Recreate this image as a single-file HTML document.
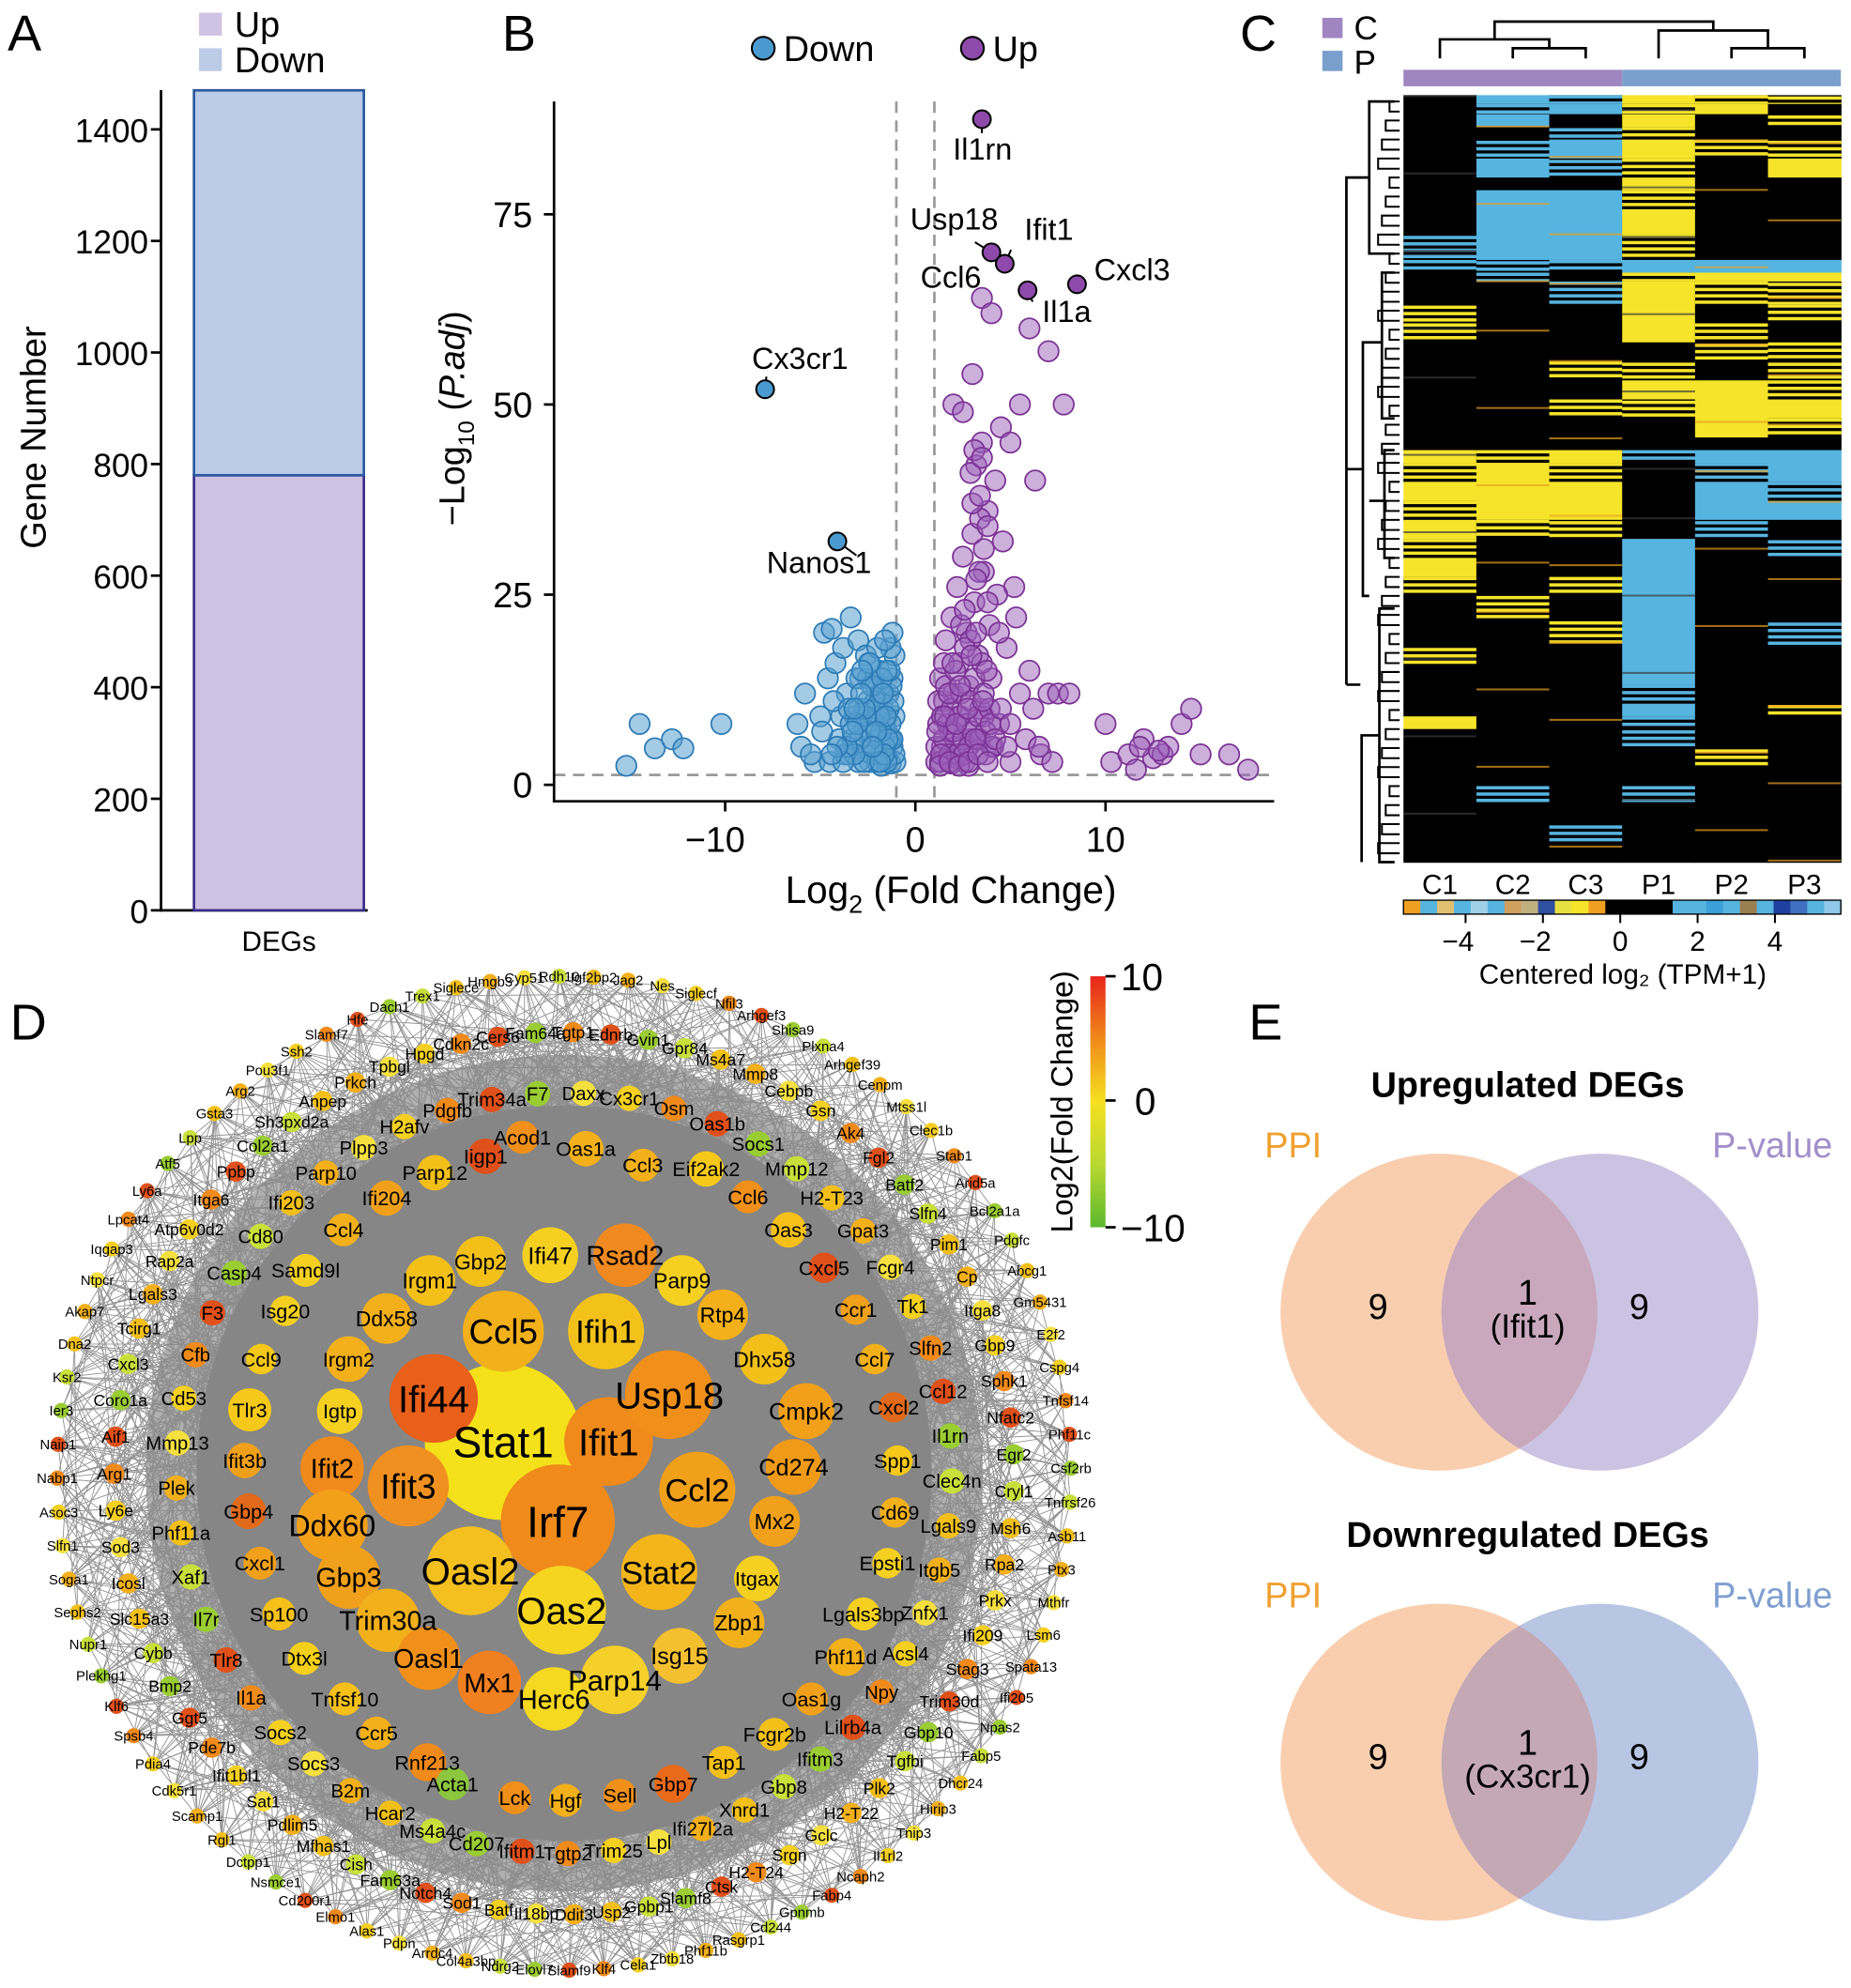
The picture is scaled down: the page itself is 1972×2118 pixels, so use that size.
<!DOCTYPE html>
<html><head><meta charset="utf-8"><style>
html,body{margin:0;padding:0;background:#fff}
svg{display:block;font-family:"Liberation Sans",Arial,sans-serif}
</style></head><body>
<svg id="fig" width="1972" height="2118" viewBox="0 0 1460 1568" xmlns="http://www.w3.org/2000/svg">
<defs>
<linearGradient id="fcgrad" x1="0" y1="0" x2="0" y2="1"><stop offset="0" stop-color="#e8241c"/><stop offset="0.25" stop-color="#f08a1a"/><stop offset="0.5" stop-color="#f5e020"/><stop offset="0.75" stop-color="#b8d830"/><stop offset="1" stop-color="#5cb82e"/></linearGradient>
<clipPath id="clipR1"><circle cx="1262" cy="1035" r="125"/></clipPath>
<clipPath id="clipR2"><circle cx="1262" cy="1390" r="125"/></clipPath>
</defs>
<g id="panelA"></g>
<g id="panelB"></g>
<g id="panelC"></g>
<g id="panelD"></g>
<g id="panelE"></g>
</svg>
<script>
// ---------- DATA ----------
const barCategories = ["DEGs"];
const upCounts = [780];
const downCounts = [690];
const aTicks = [0,200,400,600,800,1000,1200,1400];

const bXTicks = [-10,0,10];
const bYTicks = [0,25,50,75];
const downX = [-15.2,-14.5,-13.7,-12.8,-12.2,-10.2,-6.2,-6,-5.8,-5.3,-5,-4.8,-4.6,-4.4,-4.2,-4,-3.8,-3.6,-3.4,-3.2,-3,-2.9,-2.8,-2.6,-2.5,-2.4,-2.2,-2.1,-2,-1.9,-1.8,-1.7,-1.6,-1.5,-1.4,-1.3,-1.2,-1.1,-1.05,-4.5,-3.5,-3,-2.7,-2.3,-1.9,-1.5,-3.9,-3.3,-2,-4.9,-5.5,-2.5,-1.8,-3.7,-1.2,-4.3,-2.8,-1.6,-1.3,-3.1,
 -1.1,-1.2,-1.3,-1.4,-1.5,-1.6,-1.7,-1.8,-1.9,-2.0,-2.1,-2.2,-2.3,-2.4,-2.6,-2.7,-2.9,-3.0,-3.2,-3.4,-3.6,-1.15,-1.25,-1.35,-1.45,-1.55,-1.65,-1.75,-1.85,-2.05,-2.25,-2.45,-2.65,-2.85,-3.05,-3.3,-3.5,-3.8,-4.1,-4.4,-1.1,-1.3,-1.5,-1.7,-2.0,-2.4,-2.8,-3.2,-1.2,-1.6];
const downY = [2.5,8,4.8,6,4.8,8,8,5,12,3,9,20,14,20.5,16,6,18,12,22,9,19,14,5,17,11,3,8,13,6,15,2.5,10,4,7,12,2.8,5,9,3,3,4,3,7,4,6,3.5,9,6,10,7,4,14,12,4,14,11,9,8,6,14,
 4,6,8,10,3,5,12,7,9,3,11,5,13,7,9,3,6,10,4,8,5,11,13,15,6,9,4,14,3,7,5,16,10,12,8,7,10,3,5,4,17,18,15,12,18,16,15,10,20,19];
const upX = [1.1,1.2,1.3,1.4,1.5,1.6,1.7,1.8,1.9,2,2.1,2.2,2.3,2.4,2.5,2.6,2.7,2.8,2.9,3,3.1,3.2,3.3,3.4,3.5,3.6,3.7,3.8,3.9,4,4.2,4.4,4.6,4.8,5,5.2,5.5,5.8,6,6.3,6.6,6.2,7,7.5,8.1,6.5,7.2,2,2.5,3,3.5,4,5.5,6,7,7.8,4.5,5,2.2,2.8,3.3,1.5,2.4,3.6,4.1,1.9,2.9,3.4,4.3,5.3,10,10.3,11.2,11.6,12,12.5,13,13.3,14,14.5,15,16.5,17.5,11.8,12.8,
 1.1,1.2,1.3,1.4,1.5,1.6,1.7,1.8,1.9,2.0,2.1,2.2,2.3,2.4,2.5,2.6,2.7,2.8,2.9,3.0,3.1,3.2,3.3,3.4,3.5,3.6,3.7,3.8,3.9,4.0,1.15,1.35,1.55,1.75,1.95,2.15,2.35,2.55,2.75,2.95,3.15,3.35,3.55,3.75,3.95,4.2,4.5,4.8,1.3,1.8,2.3,2.8,3.3,3.8,2.6,3.2,3.6,3.0,3.4,3.8,2.9,3.1,3.5,4.4,5.0];
const upY = [3,8,14,5,11,19,3.5,7,22,12,5,26,16,9,30,3,20,13,6,33,24,42,17,10,45,28,4,36,21,14,40,8,32,18,3,26,12,6,15,40,4,10,12,12,12,5,3,50,49,54,64,62,50,60,57,50,47,45,3.5,2.5,6,16,21,9,5,2.8,19,35,25,22,8,3,4,2,6,3.5,4,5,8,10,4,4,2,5,4.5,
 5,11,3,9,6,13,8,4,10,7,15,4,9,12,6,18,8,5,11,7,14,20,9,6,16,12,7,24,10,5,7,4,9,12,16,8,13,4,10,17,6,28,11,15,8,6,10,5,2.5,3,2.5,3,4,3,23,27,31,37,38,34,41,44,43,20,8];
const labelGenes = ["Il1rn","Usp18","Ifit1","Cxcl3","Il1a","Cx3cr1","Nanos1"];
const labelX = [3.5,4,4.7,8.5,5.9,-7.9,-4.1];
const labelY = [87.5,70,68.5,65.8,65,52,32];

const heatSamples = ["C1","C2","C3","P1","P2","P3"];
const heatRowCounts = [7,8,10,10,15,15,10,15,20,20,10,7,18,15,15,15,15,15,15,15,10,10,15,15,15,15,15,15,15,20,20,15,15,15,10,10,15,15,15,15,15,15,15];
const heatValues = [
[0,-2,-1,2,1,1],[0,-1,-2,1,2,0],[0,-2,0,2,0,1],[0,0,-1,1,0,0],[0,-1,-2,2,1,1],[0,-2,-1,1,0,2],[0,0,0,2,0,0],
[0,-2,-2,1,0,0],[0,-2,-2,2,0,0],[-1,-2,-2,1,0,0],[-1,-1,-1.5,-2,-2,-2],[0,-1,0,1,2,2],[0,0,-1,2,1,1],
[1,0,0,2,0,1],[1,0,0,2,1,0],[0,0,0,0,1,1],[0,0,1,1,0,1],[0,0,0,2,2,1],[0,0,1,1,2,2],[0,0,0,0,2,1],[0,0,0,0,0,0],
[2,1,2,-1,-2,-2],[1,2,1,0,-1,-2],[2,2,2,0,-2,-1],[1,2,2,0,-2,-2],[2,1,1,0,-1,0],[1,0,0,-2,0,-1],[2,0,0,-2,0,0],
[1,0,1,-2,0,0],[0,1,0,-2,0,0],[0,0,1,-2,0,-1],[1,0,0,-2,0,0],[0,0,0,-2,0,0],[0,0,0,-1,0,0],[0,0,0,-2,0,1],
[2,0,0,-1,0,0],[0,0,0,-1,0,0],[0,0,0,0,1,0],[0,0,0,0,0,0],[0,-1,0,-1,0,0],[0,0,0,0,0,0],[0,0,-1,0,0,0],[0,0,0,0,0,0]];
const heatTicks = [-4,-2,0,2,4];

const vennUpCounts = [9,1,9];
const vennDownCounts = [9,1,9];

// ---------- HELPERS ----------
const NS="http://www.w3.org/2000/svg";
function mk(parent,tag,attrs,text){const e=document.createElementNS(NS,tag);for(const k in attrs)e.setAttribute(k,attrs[k]);if(text!==undefined)e.textContent=text;parent.appendChild(e);return e;}
const fig=document.getElementById('fig');
function panelLabel(t,x,y){const e=mk(fig,'text',{x:x,y:y,'font-size':40},t);}
panelLabel('A',6,40);panelLabel('B',396,40);panelLabel('C',978,40);panelLabel('D',8,820);panelLabel('E',985,820);

// ---------- PANEL A ----------
(function(){
const g=document.getElementById('panelA');
const y=v=>718-v*0.44;
let e;
e=mk(g,'line',{x1:127,y1:71,x2:127,y2:719,stroke:'#000','stroke-width':2});
e=mk(g,'line',{x1:126,y1:718,x2:290,y2:718,stroke:'#000','stroke-width':2});
aTicks.forEach(t=>{
 e=mk(g,'line',{x1:119,y1:y(t),x2:127,y2:y(t),stroke:'#000','stroke-width':2});
 e=mk(g,'text',{x:117,y:y(t)+10,'font-size':26,'text-anchor':'end'},t);
});
const u=upCounts[0],d=downCounts[0];
e=mk(g,'rect',{x:153,y:y(u),width:134,height:y(0)-y(u),fill:'#cfc1e2',stroke:'#3a2f8a','stroke-width':2});
e=mk(g,'rect',{x:153,y:y(u+d),width:134,height:y(u)-y(u+d),fill:'#bccbe7',stroke:'#2c5aa0','stroke-width':2});
e=mk(g,'text',{x:220,y:750,'font-size':22,'text-anchor':'middle'},barCategories[0]);
e=mk(g,'text',{x:0,y:0,'font-size':28,'text-anchor':'middle',transform:'translate(36,345) rotate(-90)'},'Gene Number');
e=mk(g,'rect',{x:157,y:10,width:18,height:18,fill:'#cfc2e3'});
e=mk(g,'text',{x:185,y:29,'font-size':28},'Up');
e=mk(g,'rect',{x:157,y:38,width:18,height:18,fill:'#bccbe6'});
e=mk(g,'text',{x:185,y:57,'font-size':28},'Down');
})();

// ---------- PANEL B ----------
(function(){
const g=document.getElementById('panelB');
const X=v=>722+v*15, Y=v=>619-v*6;
let e;
e=mk(g,'line',{x1:X(-1),y1:80,x2:X(-1),y2:632,stroke:'#999','stroke-width':2,'stroke-dasharray':'9,6'});
e=mk(g,'line',{x1:X(1),y1:80,x2:X(1),y2:632,stroke:'#999','stroke-width':2,'stroke-dasharray':'9,6'});
e=mk(g,'line',{x1:437,y1:Y(1.3),x2:1005,y2:Y(1.3),stroke:'#999','stroke-width':2,'stroke-dasharray':'9,6'});
downX.forEach((v,i)=>{e=mk(g,'circle',{cx:X(v),cy:Y(downY[i]),r:8,fill:'rgba(90,160,208,0.55)',stroke:'#2c7bb6','stroke-width':1.3});});
upX.forEach((v,i)=>{e=mk(g,'circle',{cx:X(v),cy:Y(upY[i]),r:8,fill:'rgba(155,95,185,0.5)',stroke:'#7b3294','stroke-width':1.3});});
const lo=[[0,22],[-26,-16],[10,-22],[14,-6],[8,18],[2,-20],[30,22]];
labelGenes.forEach((n,i)=>{
 const cx=X(labelX[i]),cy=Y(labelY[i]);const down=labelX[i]<0;
 e=mk(g,'line',{x1:cx,y1:cy,x2:cx+lo[i][0]*0.5,y2:cy+lo[i][1]*0.5,stroke:'#000','stroke-width':1.5});
 e=mk(g,'circle',{cx:cx,cy:cy,r:7,fill:down?'#4a9ad0':'#8e4aaa',stroke:'#000','stroke-width':1.5});
});
const lt=[[775,126,'middle'],[718,181,'start'],[808,189,'start'],[863,221,'start'],[822,254,'start'],[631,291,'middle'],[646,452,'middle']];
labelGenes.forEach((n,i)=>{e=mk(g,'text',{x:lt[i][0],y:lt[i][1],'font-size':24,'text-anchor':lt[i][2]},n);});
e=mk(g,'text',{x:726,y:227,'font-size':24},'Ccl6');
e=mk(g,'line',{x1:437,y1:80,x2:437,y2:632,stroke:'#000','stroke-width':2});
e=mk(g,'line',{x1:436,y1:632,x2:1005,y2:632,stroke:'#000','stroke-width':2});
bYTicks.forEach(t=>{e=mk(g,'line',{x1:429,y1:Y(t),x2:437,y2:Y(t),stroke:'#000','stroke-width':2});
 e=mk(g,'text',{x:420,y:Y(t)+10,'font-size':28,'text-anchor':'end'},t);});
bXTicks.forEach(t=>{e=mk(g,'line',{x1:X(t),y1:632,x2:X(t),y2:640,stroke:'#000','stroke-width':2});
 e=mk(g,'text',{x:X(t)-(t<0?8:0),y:672,'font-size':28,'text-anchor':'middle'},t<0?'\u2212'+(-t):t);});
e=mk(g,'text',{x:750,y:712,'font-size':30,'text-anchor':'middle'});
e.innerHTML='Log<tspan font-size="20" dy="8">2</tspan><tspan dy="-8"> (Fold Change)</tspan>';
e=mk(g,'text',{x:0,y:0,'font-size':28,'text-anchor':'middle',transform:'translate(366,330) rotate(-90)'});
e.innerHTML='\u2212Log<tspan font-size="18" dy="8">10</tspan><tspan dy="-8"> (</tspan><tspan font-style="italic">P.adj</tspan>)';
e=mk(g,'circle',{cx:602,cy:38,r:9,fill:'#4a9ad0',stroke:'#000','stroke-width':1.5});
e=mk(g,'text',{x:618,y:48,'font-size':28},'Down');
e=mk(g,'circle',{cx:767,cy:38,r:9,fill:'#8e4aaa',stroke:'#000','stroke-width':1.5});
e=mk(g,'text',{x:783,y:48,'font-size':28},'Up');
})();

// ---------- PANEL C ----------
(function(){
const g=document.getElementById('panelC');
const x0=1107,x1=1452,y0=75,y1=680,cw=(x1-x0)/6;
const total=heatRowCounts.reduce((a,b)=>a+b,0);const rh=(y1-y0)/total;
function col(v){if(v>0)return '#f5e42a';if(v<0)return '#56b4e0';return '#000';}
let e,yy=y0;
heatRowCounts.forEach((n,i)=>{const h=n*rh;heatValues[i].forEach((v,j)=>{
 const full=Math.abs(v)>=2||v==0;
 e=mk(g,'rect',{x:x0+j*cw,y:yy,width:cw+0.5,height:h+0.5,fill:full?col(v):'#000'});
 if(!full){for(let s=0;s<h;s+=5){e=mk(g,'rect',{x:x0+j*cw,y:yy+s+((i+j)%2),width:cw+0.5,height:Math.min(2.6,h-s),fill:col(v)});}}
 });
 yy+=h;});
for(let k=0;k<60;k++){const sy=y0+((k*37)%605);const sc=(k*5)%6;
 e=mk(g,'rect',{x:x0+sc*cw,y:sy,width:cw,height:1.5,fill:k%3?'#e8a020':'#3a3a3a',opacity:0.7});}
e=mk(g,'rect',{x:x0,y:55,width:cw*3,height:13,fill:'#9f86c0'});
e=mk(g,'rect',{x:x0+cw*3,y:55,width:cw*3,height:13,fill:'#7b9fcc'});
const cx=j=>x0+cw*(j+0.5);
const dp=`M${cx(1)},46 V38 H${cx(2)} V46 M${(cx(1)+cx(2))/2},38 V31 H${cx(0)} V46 M${cx(4)},46 V38 H${cx(5)} V46 M${(cx(4)+cx(5))/2},38 V24 H${cx(3)} V46 M${(cx(0)+(cx(1)+cx(2))/2)/2},31 V17 H${(cx(3)+(cx(4)+cx(5))/2)/2} V24`;
e=mk(g,'path',{d:dp,fill:'none',stroke:'#000','stroke-width':2});
e=mk(g,'path',{d:'M1100,80 H1080 V200 H1100 M1080,140 H1062 V540 M1062,540 H1073 M1100,215 H1090 V330 H1100 M1090,270 H1075 V470 H1080 M1100,355 H1092 V440 H1100 M1092,395 H1080 M1100,480 H1088 V680 H1100 M1088,580 H1074 V680 M1075,370 H1062',fill:'none',stroke:'#000','stroke-width':2});
for(let k=0;k<40;k++){const yk=80+k*15;e=mk(g,'path',{d:`M1104,${yk} H${1096-(k%4)*3} V${yk+8} H1104`,fill:'none',stroke:'#000','stroke-width':1.5});}
e=mk(g,'rect',{x:1043,y:14,width:16,height:16,fill:'#9f86c0'});
e=mk(g,'text',{x:1068,y:31,'font-size':26},'C');
e=mk(g,'rect',{x:1043,y:40,width:16,height:16,fill:'#7b9fcc'});
e=mk(g,'text',{x:1068,y:58,'font-size':26},'P');
heatSamples.forEach((s,j)=>{e=mk(g,'text',{x:cx(j),y:705,'font-size':22,'text-anchor':'middle'},s);});
const cbc=['#f0a020','#56b4e0','#e0c070','#56b4e0','#9fd0e8','#56b4e0','#d0a060','#c0b080','#3050a0','#e8e040','#f5e42a','#f0a020','#000','#000','#000','#000','#56b4e0','#56b4e0','#3aa0d8','#56b4e0','#9a8050','#56b4e0','#2040a0','#4070c0','#56b4e0','#8fc8e8'];
const cbw=(x1-x0)/cbc.length;
cbc.forEach((c,k)=>{e=mk(g,'rect',{x:x0+k*cbw,y:710,width:cbw+0.5,height:11,fill:c});});
e=mk(g,'rect',{x:x0,y:710,width:x1-x0,height:11,fill:'none',stroke:'#000','stroke-width':1});
const tx=v=>1278+v*30.5;
heatTicks.forEach(t=>{e=mk(g,'line',{x1:tx(t),y1:721,x2:tx(t),y2:728,stroke:'#000','stroke-width':1.5});
 e=mk(g,'text',{x:tx(t)-(t<0?6:0),y:750,'font-size':22,'text-anchor':'middle'},t<0?'\u2212'+(-t):t);});
e=mk(g,'text',{x:1280,y:776,'font-size':22,'text-anchor':'middle'},'Centered log\u2082 (TPM+1)');
})();

// ---------- PANEL D ----------
const coreNodes=[["Stat1",397,1137,62,"#f5e11a"],["Irf7",440,1200,45,"#f08a1a"],["Ifit1",480,1137,35,"#f08a1a"],["Ifi44",342,1103,35,"#e8601a"],["Usp18",528,1100,35,"#f0901a"],["Ifih1",478,1050,30,"#f3c21a"],["Ccl5",397,1050,32,"#f2b01a"],["Oasl2",371,1239,35,"#f3c020"],["Oas2",443,1270,35,"#f5d520"],["Stat2",520,1240,30,"#f3b51a"],["Ccl2",550,1175,30,"#f1a01a"],["Ifit3",322,1172,32,"#f09020"],["Ifit2",262,1158,25,"#f08a1a"],["Ddx60",262,1203,28,"#f2a01a"],["Gbp3",275,1244,25,"#f0a01a"],["Trim30a",306,1278,25,"#f2b01a"],["Oasl1",338,1308,25,"#f0901a"],["Mx1",386,1327,25,"#f08020"],["Herc6",437,1340,25,"#f5d820"],["Parp14",485,1325,27,"#f5d02a"],["Isg15",536,1306,22,"#f5c030"],["Zbp1",583,1280,20,"#f2b01a"],["Itgax",597,1245,18,"#f5d020"],["Mx2",611,1200,20,"#f0a01a"],["Cd274",626,1157,22,"#f09a1a"],["Cmpk2",636,1113,22,"#f2a01a"],["Dhx58",603,1072,20,"#f3c01a"],["Rtp4",570,1037,20,"#f3b01a"],["Parp9",538,1010,20,"#f5d020"],["Rsad2",493,990,25,"#f08a20"],["Ifi47",434,990,22,"#f5d020"],["Gbp2",379,995,20,"#f3c01a"],["Irgm1",339,1010,20,"#f3c01a"],["Ddx58",305,1040,20,"#f3b01a"],["Irgm2",275,1072,18,"#f3b01a"],["Igtp",268,1113,18,"#f5d020"],["Tlr3",197,1112,17,"#f5c81a"],["Ifit3b",193,1152,14,"#f0a01a"],["Gbp4",196,1192,14,"#e06a1a"],["Cxcl1",205,1233,13,"#f0a01a"],["Sp100",220,1273,13,"#f5c01a"],["Dtx3l",240,1308,13,"#f5d01a"],["Tnfsf10",272,1340,13,"#f5c01a"],["Ccr5",297,1367,13,"#f3b01a"],["Rnf213",337,1390,15,"#f08a1a"],["Acta1",357,1407,13,"#8cc63f"],["Lck",406,1418,13,"#f0901a"],["Hgf",446,1420,13,"#f3b01a"],["Sell",489,1416,13,"#f0901a"],["Gbp7",531,1407,15,"#e86a1a"],["Tap1",571,1390,13,"#f5c01a"],["Fcgr2b",611,1368,13,"#f3c01a"],["Oas1g",640,1340,13,"#f0a01a"],["Phf11d",667,1307,15,"#f3b01a"],["Lgals3bp",681,1273,13,"#f5d020"],["Epsti1",700,1233,12,"#f5d020"],["Cd69",706,1193,12,"#f3b01a"],["Spp1",708,1152,12,"#f5c81a"],["Cxcl2",705,1110,12,"#e06a1a"],["Ccl7",690,1072,12,"#f3b01a"],["Ccr1",675,1033,12,"#f0a01a"],["Cxcl5",650,1000,12,"#e0501a"],["Oas3",622,970,14,"#f5c01a"],["Ccl6",590,944,13,"#f0901a"],["Eif2ak2",557,922,14,"#f5c81a"],["Ccl3",507,919,13,"#f3b01a"],["Oas1a",462,906,14,"#f3b01a"],["Acod1",412,897,13,"#f0901a"],["Iigp1",383,912,14,"#e0501a"],["Parp12",343,925,14,"#f3c01a"],["Ifi204",305,945,14,"#f0a01a"],["Ccl4",271,970,13,"#f3b01a"],["Samd9l",241,1002,13,"#f5d020"],["Isg20",225,1034,12,"#f5d020"],["Ccl9",206,1072,12,"#f5c81a"]];
const ringInner=["Daxx","Cx3cr1","Osm","Oas1b","Socs1","Mmp12","H2-T23","Gpat3","Fcgr4","Tk1","Slfn2","Ccl12","Il1rn","Clec4n","Lgals9","Itgb5","Znfx1","Acsl4","Npy","Lilrb4a","Ifitm3","Gbp8","Xnrd1","Ifi27l2a","Lpl","Trim25","Tgtp2","Ifitm1","Cd207","Ms4a4c","Hcar2","B2m","Socs3","Socs2","Il1a","Tlr8","Il7r","Xaf1","Phf11a","Plek","Mmp13","Cd53","Cfb","F3","Casp4","Cd80","Ifi203","Parp10","Plpp3","H2afv","Pdgfb","Trim34a","F7"];
const ringMid=["Tgtp1","Ednrb","Gvin1","Gpr84","Ms4a7","Mmp8","Cebpb","Gsn","Ak4","Fgl2","Batf2","Slfn4","Pim1","Cp","Itga8","Gbp9","Sphk1","Nfatc2","Egr2","Cryl1","Msh6","Rpa2","Prkx","Ifi209","Stag3","Trim30d","Gbp10","Tgfbi","Plk2","H2-T22","Gclc","Srgn","H2-T24","Ctsk","Slamf8","Gpbp1","Usp2","Ddit3","Il18bp","Batf","Sod1","Notch4","Fam63a","Cish","Mfhas1","Pdlim5","Sat1","Ifit1bl1","Pde7b","Ggt5","Bmp2","Cybb","Slc15a3","Icosl","Sod3","Ly6e","Arg1","Aif1","Coro1a","Cxcl3","Tcirg1","Lgals3","Rap2a","Atp6v0d2","Itga6","Ppbp","Col2a1","Sh3pxd2a","Anpep","Prkch","Tpbgl","Hpgd","Cdkn2c","Cers6","Fam64a"];
const ringOuter=["Rdh10","Igf2bp2","Jag2","Nes","Siglecf","Nfil3","Arhgef3","Shisa9","Plxna4","Arhgef39","Cenpm","Mtss1l","Clec1b","Stab1","Arid5a","Bcl2a1a","Pdgfc","Abcg1","Gm5431","E2f2","Cspg4","Tnfsf14","Phf11c","Csf2rb","Tnfrsf26","Asb11","Ptx3","Mthfr","Lsm6","Spata13","Ifi205","Npas2","Fabp5","Dhcr24","Hirip3","Tnip3","Il1rl2","Ncaph2","Fabp4","Gpnmb","Cd244","Rasgrp1","Phf11b","Zbtb18","Cela1","Klf4","Slamf9","Elovl7","Ndrg2","Col4a3bp","Arrdc4","Pdpn","Alas1","Elmo1","Cd200r1","Nsmce1","Dctpp1","Rgl1","Scamp1","Cdk5r1","Pdia4","Spsb4","Klf6","Plekhg1","Nupr1","Sephs2","Soga1","Slfn1","Asoc3","Nabp1","Naip1","Ier3","Ksr2","Dna2","Akap7","Ntpcr","Iqgap3","Lpcat4","Ly6a","Atf5","Lpp","Gsta3","Arg2","Pou3f1","Ssh2","Slamf7","Hfe","Dach1","Trex1","Siglece","Hmgb3","Cyp51"];
(function(){
const g=document.getElementById('panelD');
const CX=445,CY=1162;
const pal=['#f5d020','#9acd32','#f3b01a','#f08a1a','#c8e03a','#f5e040','#e0501a','#f3c01a'];
const nodes=coreNodes.map(n=>({name:n[0],x:n[1],y:n[2],r:n[3],c:n[4],fs:Math.max(16,Math.min(34,n[3]*0.85))}));
function ring(list,R,rr,fs,off){list.forEach((nm,i)=>{const a=-Math.PI/2+off+2*Math.PI*i/list.length;
 nodes.push({name:nm,x:CX+R*1.02*Math.cos(a),y:CY+R*Math.sin(a),r:rr,c:pal[(i*3+list.length)%pal.length],fs:fs});});}
ring(ringInner,300,10,15,0.05);ring(ringMid,348,8,13,0.02);ring(ringOuter,392,6,11,-0.01);
let e;
e=mk(g,'circle',{cx:CX,cy:CY,r:330,fill:'#b0b0b0'});
const N=nodes.length;let d='';
for(let i=0;i<N;i++){for(let k=1;k<=7;k++){const j=(i*13+k*37)%N;d+=`M${nodes[i].x.toFixed(1)},${nodes[i].y.toFixed(1)}L${nodes[j].x.toFixed(1)},${nodes[j].y.toFixed(1)}`;}}
e=mk(g,'path',{d:d,stroke:'#8a8a8a','stroke-width':0.7,fill:'none',opacity:0.9});
e=mk(g,'circle',{cx:CX,cy:CY,r:290,fill:'#868686'});
nodes.forEach(n=>{e=mk(g,'circle',{cx:n.x,cy:n.y,r:n.r,fill:n.c});});
nodes.forEach(n=>{e=mk(g,'text',{x:n.x,y:n.y+n.fs*0.36,'font-size':n.fs,'text-anchor':'middle',fill:'#000'},n.name);});
e=mk(g,'rect',{x:860,y:770,width:12,height:198,fill:'url(#fcgrad)'});
[[770,'10'],[868,'0'],[968,'\u221210']].forEach(t=>{e=mk(g,'line',{x1:872,y1:t[0],x2:880,y2:t[0],stroke:'#000','stroke-width':2});
 e=mk(g,'text',{x:t[1]=='0'?895:884,y:t[0]+11,'font-size':30},t[1]);});
e=mk(g,'text',{x:0,y:0,'font-size':24,'text-anchor':'middle',transform:'translate(846,869) rotate(-90)'},'Log2(Fold Change)');
})();

// ---------- PANEL E ----------
(function(){
const g=document.getElementById('panelE');
function venn(cy,title,rc,rcol,counts,mid,clip,tag){
 let e;
 e=mk(g,'text',{x:1205,y:cy-170,'font-size':28,'font-weight':'bold','text-anchor':'middle'},title);
 e=mk(g,'text',{x:1020,y:cy-122,'font-size':28,'text-anchor':'middle',fill:'#f0a030'},'PPI');
 e=mk(g,'text',{x:1398,y:cy-122,'font-size':28,'text-anchor':'middle',fill:rcol},'P-value');
 e=mk(g,'circle',{cx:1135,cy:cy,r:125,fill:'#f9ceae'});
 e=mk(g,'circle',{cx:1262,cy:cy,r:125,fill:rc});
 e=mk(g,'circle',{cx:1135,cy:cy,r:125,fill:tag=='up'?'#c9a8bd':'#c4a8b4','clip-path':'url(#'+clip+')'});
 e=mk(g,'text',{x:1087,y:cy+5,'font-size':28,'text-anchor':'middle'},counts[0]);
 e=mk(g,'text',{x:1205,y:cy-6,'font-size':28,'text-anchor':'middle'},counts[1]);
 e=mk(g,'text',{x:1205,y:cy+20,'font-size':26,'text-anchor':'middle'},mid);
 e=mk(g,'text',{x:1293,y:cy+5,'font-size':28,'text-anchor':'middle'},counts[2]);
}
venn(1035,'Upregulated DEGs','#cbc3e2','#a28fca',vennUpCounts,'(Ifit1)','clipR1','up');
venn(1390,'Downregulated DEGs','#b8c6e4','#7f9fd0',vennDownCounts,'(Cx3cr1)','clipR2','down');
})();
</script>
</body></html>
